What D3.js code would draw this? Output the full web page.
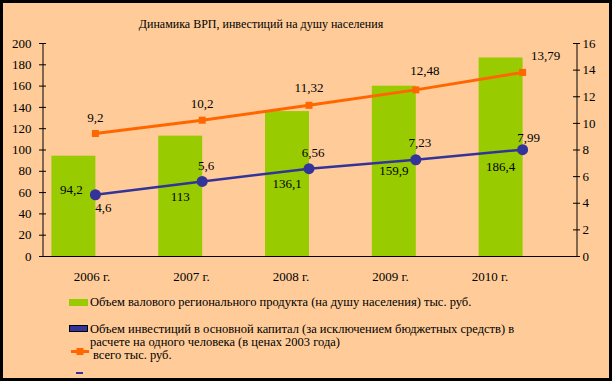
<!DOCTYPE html>
<html><head><meta charset="utf-8">
<script src="https://cdn.jsdelivr.net/npm/d3@7/dist/d3.min.js"></script>
<style>
html,body{margin:0;padding:0;background:#000;}
svg{display:block;font-family:"Liberation Serif","Times New Roman",serif;}
</style></head>
<body><svg id="c" width="612" height="381"></svg>
<script>
const title = "Динамика ВРП, инвестиций на душу населения";
const categories = ["2006 г.", "2007 г.", "2008 г.", "2009 г.", "2010 г."];
const grpValues = [94.2, 113, 136.1, 159.9, 186.4];
const investValues = [4.6, 5.6, 6.56, 7.23, 7.99];
const totalValues = [9.2, 10.2, 11.32, 12.48, 13.79];
const leftTicks = [0, 20, 40, 60, 80, 100, 120, 140, 160, 180, 200];
const rightTicks = [0, 2, 4, 6, 8, 10, 12, 14, 16];
const legendGrp = "Объем валового регионального продукта (на душу населения) тыс. руб.";
const legendInvest1 = "Объем инвестиций в основной капитал (за исключением бюджетных средств) в";
const legendInvest2 = "расчете на одного человека (в ценах 2003 года)";
const legendTotal = "всего тыс. руб.";

// label nudges (layout only)
const barLabelDx = [-2, 0, 0, 0, 0];
const barLabelDy = [-11.5, 5, 4, 4, 14];
const totLabelDx = [0, 0, 0, 9, 23];
const totLabelDy = [-12, -12.5, -13, -15, -12];
const invLabelDx = [8, 4, 4, 4, 6];
const invLabelDy = [17, -11, -11.5, -13, -8];

const fmt = v => String(v).replace(".", ",");
const svg = d3.select("#c");
const W = 612, H = 381;
const BG = "#FFCC99", GREEN = "#99CC00", BLUE = "#333399", ORANGE = "#FF6600";
const FONT = "Liberation Serif, Times New Roman, serif";

svg.append("rect").attr("x",0).attr("y",0).attr("width",W).attr("height",H).attr("fill","#000");
svg.append("rect").attr("x",3).attr("y",3).attr("width",606).attr("height",375).attr("fill",BG);

const L = 42.5, R = 576.5, T = 43, B = 256;
const x = d3.scaleBand().domain(categories).range([42, 576]).padding(0);
const cx = c => x(c) + x.bandwidth() / 2;
const yL = d3.scaleLinear().domain([0, 200]).range([B, T]);
const yR = d3.scaleLinear().domain([0, 16]).range([B, T]);
const labX = d3.scalePoint().domain(categories).range([92, 490]);

svg.append("text").attr("x", 261).attr("y", 28).attr("text-anchor","middle")
  .attr("font-size", 12).attr("font-family", FONT).attr("fill","#000").text(title);

// bars
const barW = 44;
svg.selectAll("rect.bar").data(grpValues).enter().append("rect")
  .attr("class","bar")
  .attr("x", (d,i) => cx(categories[i]) - barW)
  .attr("y", d => yL(d)).attr("width", barW)
  .attr("height", d => yL(0) - yL(d)).attr("fill", GREEN);

// axes
const axL = d3.axisLeft(yL).tickValues(leftTicks).tickSizeInner(4).tickSizeOuter(0).tickPadding(7);
const gL = svg.append("g").attr("transform", `translate(${L},0)`).call(axL);
const axR = d3.axisRight(yR).tickValues(rightTicks).tickSizeInner(4).tickSizeOuter(0).tickPadding(2);
const gR = svg.append("g").attr("transform", `translate(${R},0)`).call(axR);
[gL, gR].forEach(g => {
  g.attr("font-family", FONT);
  g.select(".domain").attr("stroke","#000");
  g.selectAll(".tick line").attr("stroke","#000").attr("x1", -3.5).attr("x2", 3.5);
  g.selectAll(".tick text").attr("font-size", 13).attr("fill","#000").attr("font-family", FONT);
});
gR.selectAll(".tick text").attr("x", 6);
svg.append("line").attr("x1", L).attr("x2", R).attr("y1", B + 0.5).attr("y2", B + 0.5).attr("stroke","#000");

// category labels
svg.selectAll("text.cat").data(categories).enter().append("text")
  .attr("class","cat").attr("x", d => labX(d)).attr("y", 281)
  .attr("text-anchor","middle").attr("font-size", 13).attr("font-family", FONT).text(d => d);

// lines
const lineInv = d3.line().x((d,i) => cx(categories[i])).y(d => yR(d));
svg.append("path").datum(totalValues).attr("d", lineInv).attr("fill","none")
  .attr("stroke", ORANGE).attr("stroke-width", 3);
svg.selectAll("rect.tm").data(totalValues).enter().append("rect").attr("class","tm")
  .attr("x", (d,i) => cx(categories[i]) - 3.5).attr("y", d => yR(d) - 3.5)
  .attr("width", 7).attr("height", 7).attr("fill", ORANGE);
svg.append("path").datum(investValues).attr("d", lineInv).attr("fill","none")
  .attr("stroke", BLUE).attr("stroke-width", 2.5);
svg.selectAll("circle.im").data(investValues).enter().append("circle").attr("class","im")
  .attr("cx", (d,i) => cx(categories[i])).attr("cy", d => yR(d)).attr("r", 5.5).attr("fill", BLUE);

// data labels
const lab = svg.append("g").attr("font-size", 13).attr("font-family", FONT).attr("text-anchor","middle");
lab.selectAll("text.bl").data(grpValues).enter().append("text").attr("class","bl")
  .attr("x", (d,i) => cx(categories[i]) - barW/2 + barLabelDx[i])
  .attr("y", (d,i) => yL(d/2) + barLabelDy[i]).text(fmt);
lab.selectAll("text.tl").data(totalValues).enter().append("text").attr("class","tl")
  .attr("x", (d,i) => cx(categories[i]) + totLabelDx[i])
  .attr("y", (d,i) => yR(d) + totLabelDy[i]).text(fmt);
lab.selectAll("text.il").data(investValues).enter().append("text").attr("class","il")
  .attr("x", (d,i) => cx(categories[i]) + invLabelDx[i])
  .attr("y", (d,i) => yR(d) + invLabelDy[i]).text(fmt);

// legend
const lg = svg.append("g").attr("font-size", 12.5).attr("font-family", FONT);
lg.append("rect").attr("x",69).attr("y",299).attr("width",19).attr("height",7).attr("fill",GREEN);
lg.append("text").attr("x",90).attr("y",306).text(legendGrp);
lg.append("rect").attr("x",69.5).attr("y",325.5).attr("width",18).attr("height",6).attr("fill",BLUE).attr("stroke","#000").attr("stroke-width",1);
lg.append("text").attr("x",90).attr("y",333).text(legendInvest1);
lg.append("text").attr("x",90).attr("y",345.5).text(legendInvest2);
lg.append("line").attr("x1",71).attr("x2",89).attr("y1",351.5).attr("y2",351.5).attr("stroke",ORANGE).attr("stroke-width",3);
lg.append("rect").attr("x",76.5).attr("y",348).attr("width",7).attr("height",7).attr("fill",ORANGE);
lg.append("text").attr("x",93).attr("y",358.5).text(legendTotal);
lg.append("rect").attr("x",76).attr("y",372).attr("width",7).attr("height",2).attr("fill",BLUE);
</script></body></html>
